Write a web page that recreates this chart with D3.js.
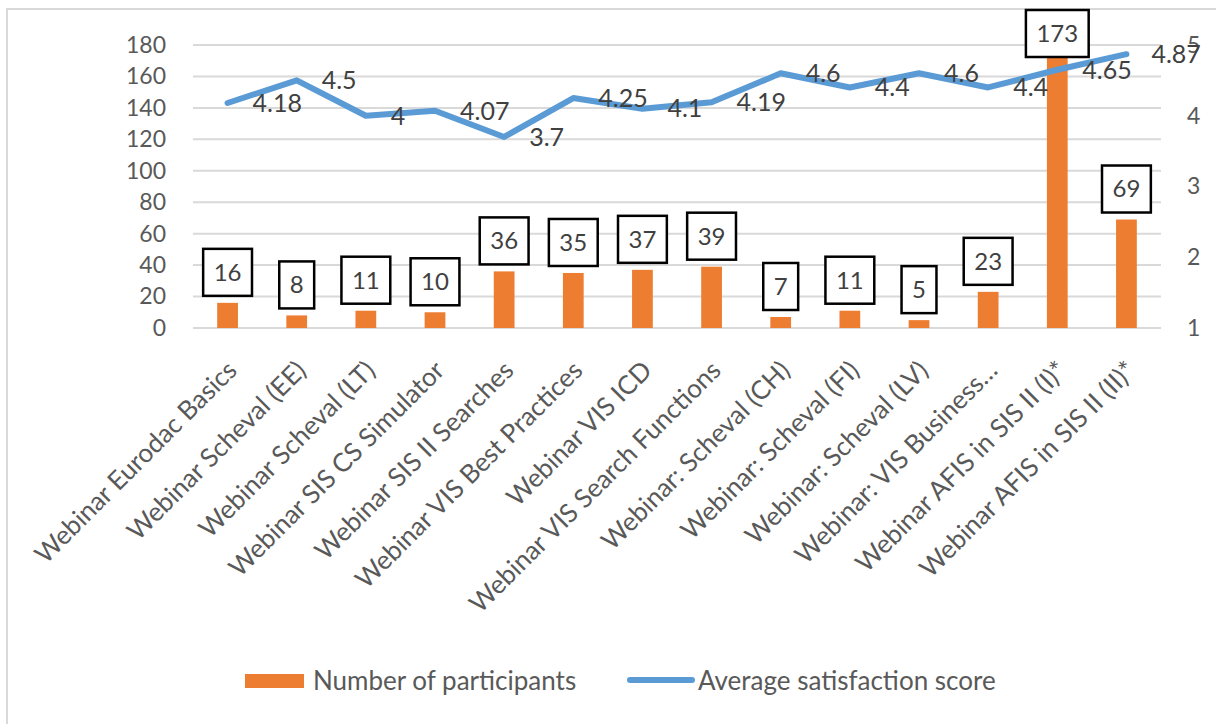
<!DOCTYPE html>
<html><head><meta charset="utf-8">
<script src="https://cdn.jsdelivr.net/npm/d3@7"></script>
<style>
html,body{margin:0;padding:0;background:#fff;}
svg text{font-family:Lato,"Open Sans",sans-serif;}
</style></head>
<body><svg id="chart" width="1216" height="724"></svg>
<script>
const categories = ["Webinar Eurodac Basics","Webinar Scheval (EE)","Webinar Scheval (LT)","Webinar SIS CS Simulator","Webinar SIS II Searches","Webinar VIS Best Practices","Webinar VIS ICD","Webinar VIS Search Functions","Webinar: Scheval (CH)","Webinar: Scheval (FI)","Webinar: Scheval (LV)","Webinar: VIS Business\u2026","Webinar AFIS in SIS II (I)*","Webinar AFIS in SIS II (II)*"];
const participants = [16,8,11,10,36,35,37,39,7,11,5,23,173,69];
const satisfaction = [4.18,4.5,4,4.07,3.7,4.25,4.1,4.19,4.6,4.4,4.6,4.4,4.65,4.87];
const leftTicks = [0,20,40,60,80,100,120,140,160,180];
const rightTicks = [1,2,3,4,5];
const seriesNames = ["Number of participants","Average satisfaction score"];

const svg = d3.select("#chart");
const L = 193, R = 1161, T = 45, B = 328;
const orange = "#ED7D31", blue = "#5B9BD5", grid = "#D9D9D9", txt = "#595959", lbl = "#404040";

svg.append("rect").attr("x",7).attr("y",9).attr("width",1400).attr("height",1000)
  .attr("fill","#fff").attr("stroke",grid).attr("stroke-width",2);

const x = d3.scaleBand().domain(categories).range([L,R]).paddingInner(0.7).paddingOuter(0.35);
const yL = d3.scaleLinear().domain([0,180]).range([B,T]);
const yR = d3.scaleLinear().domain([1,5]).range([B,T]);

// gridlines
svg.append("g").selectAll("line").data(leftTicks).join("line")
  .attr("x1",L).attr("x2",R).attr("y1",d=>yL(d)).attr("y2",d=>yL(d))
  .attr("stroke",grid).attr("stroke-width",2);

// left axis
const axL = svg.append("g").attr("transform",`translate(${L},0)`)
  .call(d3.axisLeft(yL).tickValues(leftTicks).tickSize(0).tickPadding(27));
axL.select(".domain").remove();
axL.selectAll("text").attr("fill",txt).style("font-size","23px");

// right axis
const axR = svg.append("g").attr("transform",`translate(${R},0)`)
  .call(d3.axisRight(yR).tickValues(rightTicks).tickFormat(d3.format("d")).tickSize(0).tickPadding(26));
axR.select(".domain").remove();
axR.selectAll("text").attr("fill",txt).style("font-size","23px");

// bottom axis (category labels)
const axB = svg.append("g").attr("transform",`translate(0,${B})`)
  .call(d3.axisBottom(x).tickSize(0));
axB.select(".domain").remove();
axB.selectAll("text")
  .attr("fill",txt).style("font-size","26px")
  .attr("text-anchor","end").attr("dy",null).attr("y",null)
  .attr("transform","translate(11,44) rotate(-45)");

// bars
svg.append("g").selectAll("rect").data(participants).join("rect")
  .attr("x",(d,i)=>x(categories[i])).attr("width",x.bandwidth())
  .attr("y",d=>yL(d)).attr("height",d=>B-yL(d)).attr("fill",orange);

// line
const line = d3.line().x((d,i)=>x(categories[i])+x.bandwidth()/2).y(d=>yR(d));
svg.append("path").datum(satisfaction).attr("d",line)
  .attr("fill","none").attr("stroke",blue).attr("stroke-width",6)
  .attr("stroke-linejoin","round").attr("stroke-linecap","round");

// line labels
svg.append("g").selectAll("text").data(satisfaction).join("text")
  .attr("x",(d,i)=>x(categories[i])+x.bandwidth()/2+25)
  .attr("y",d=>yR(d)).attr("dy","0.35em")
  .attr("fill",lbl).style("font-size","25px").text(d=>d);

// bar labels with boxes
const bl = svg.append("g").selectAll("g").data(participants).join("g");
bl.each(function(d,i){
  const g = d3.select(this);
  const cx = x(categories[i])+x.bandwidth()/2;
  const t = g.append("text").attr("text-anchor","middle").attr("fill",lbl)
    .style("font-size","24px").text(d);
  const w = t.node().getComputedTextLength()+21;
  const h = 47;
  const top = Math.max(10, yL(d)-7-h);
  g.insert("rect","text").attr("x",cx-w/2).attr("y",top).attr("width",w).attr("height",h)
    .attr("fill","#fff").attr("stroke","#000").attr("stroke-width",2.5);
  t.attr("x",cx).attr("y",top+h/2).attr("dy","0.35em");
});

// legend
const lg = svg.append("g");
lg.append("rect").attr("x",245).attr("y",674).attr("width",59).attr("height",14).attr("fill",orange);
lg.append("text").attr("x",313).attr("y",681).attr("dy","0.35em").attr("fill",txt)
  .style("font-size","26px").text(seriesNames[0]);
lg.append("line").attr("x1",630).attr("x2",692).attr("y1",680).attr("y2",680)
  .attr("stroke",blue).attr("stroke-width",6).attr("stroke-linecap","round");
lg.append("text").attr("x",698).attr("y",681).attr("dy","0.35em").attr("fill",txt)
  .style("font-size","26px").text(seriesNames[1]);
</script></body></html>
